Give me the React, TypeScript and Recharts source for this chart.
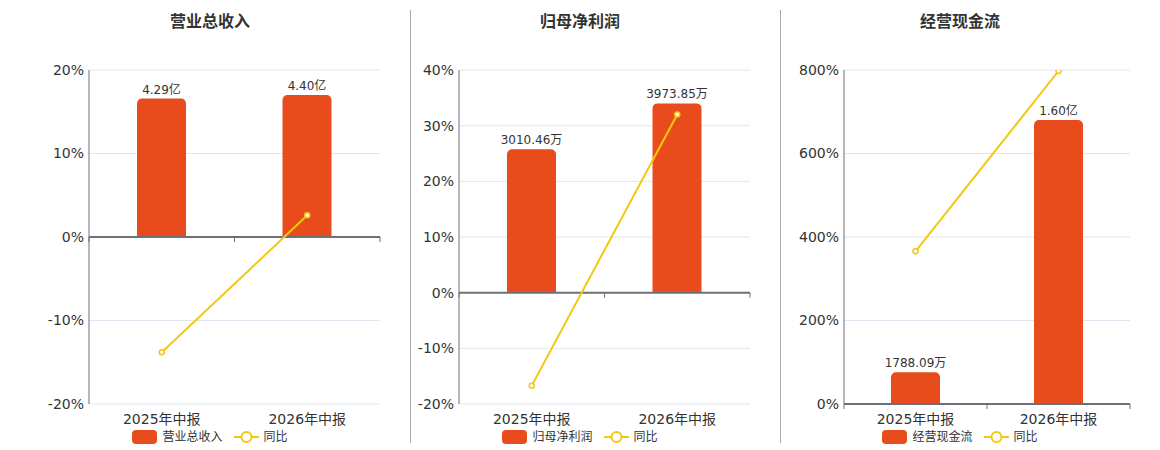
import React from "react";
import {
  ComposedChart, Bar, Line, XAxis, YAxis, CartesianGrid,
  ReferenceLine, LabelList,
} from "recharts";

const periods = ["2025年中报", "2026年中报"];

// 营业总收入 (亿)
const revenueValues = [4.29, 4.4];
const revenueLabels = ["4.29亿", "4.40亿"];
const revenueYoy = [-13.8, 2.6];
const revenueTicks = [-20, -10, 0, 10, 20];

// 归母净利润 (万)
const profitValues = [3010.46, 3973.85];
const profitLabels = ["3010.46万", "3973.85万"];
const profitYoy = [-16.7, 32.0];
const profitTicks = [-20, -10, 0, 10, 20, 30, 40];

// 经营现金流 (万)
const cashValues = [1788.09, 16000];
const cashLabels = ["1788.09万", "1.60亿"];
const cashYoy = [365.7, 797.6];
const cashTicks = [0, 200, 400, 600, 800];

const BAR_COLOR = "#e84c1d";
const LINE_COLOR = "#f2c811";
const AXIS_COLOR = "#6e7079";
const GRID_COLOR = "#e0e6f1";
const TEXT_COLOR = "#333";
const FONT = "'DejaVu Sans', 'Noto Sans CJK SC', sans-serif";

type PanelProps = {
  title: string;
  values: number[];
  labels: string[];
  yoy: number[];
  ticks: number[];
  left: number;
  width: number;
  axisWidth: number;
  center: number;
};

function ZeroLine(props: any) {
  const { x1, x2, y1 } = props;
  const mid = (x1 + x2) / 2;
  return (
    <g>
      <line x1={x1} x2={x2} y1={y1} y2={y1} stroke={AXIS_COLOR} strokeWidth={2} />
      {[x1, mid, x2].map((x, i) => (
        <line key={i} x1={x} x2={x} y1={y1} y2={y1 + 5} stroke={AXIS_COLOR} strokeWidth={1} />
      ))}
    </g>
  );
}

function Panel({ title, values, labels, yoy, ticks, left, width, axisWidth, center }: PanelProps) {
  const data = periods.map((p, i) => ({ period: p, value: values[i], label: labels[i], yoy: yoy[i] }));
  const lo = ticks[0];
  const hi = ticks[ticks.length - 1];
  const barMax = Math.max(...values) / 0.85;
  const barMin = (barMax * lo) / hi;

  return (
    <div style={{ position: "absolute", left, top: 0, width, height: 450 }}>
      <div style={{
        position: "absolute", left: 0, top: 12, width: center * 2, textAlign: "center",
        fontSize: 16, fontWeight: "bold", color: TEXT_COLOR, lineHeight: "20px",
      }}>{title}</div>
      <ComposedChart width={width} height={450} data={data}
        margin={{ top: 70, right: 20, bottom: 16, left: 0 }}>
        <CartesianGrid yAxisId="left" vertical={false} stroke={GRID_COLOR} />
        <XAxis dataKey="period" axisLine={false} tickLine={false} tickSize={0} tickMargin={10} height={30}
          tick={{ fontSize: 14, fill: TEXT_COLOR, fontFamily: FONT }} />
        <YAxis yAxisId="left" domain={[lo, hi]} ticks={ticks} width={axisWidth}
          tickLine={false} tickSize={0} tickMargin={5} allowDataOverflow
          axisLine={{ stroke: AXIS_COLOR }} tickFormatter={(v: number) => `${v}%`}
          tick={{ fontSize: 14, fill: TEXT_COLOR, fontFamily: FONT }} />
        <YAxis yAxisId="bar" orientation="right" hide width={0} domain={[barMin, barMax]} allowDataOverflow />
        <Bar yAxisId="bar" dataKey="value" fill={BAR_COLOR} barSize={49} radius={[5, 5, 0, 0]}
          isAnimationActive={false}>
          <LabelList dataKey="label" position="top" offset={5}
            style={{ fontSize: 12, fill: TEXT_COLOR, fontFamily: FONT }} />
        </Bar>
        <ReferenceLine yAxisId="left" y={0} shape={ZeroLine} />
        <Line yAxisId="left" dataKey="yoy" type="linear" stroke={LINE_COLOR} strokeWidth={2}
          dot={{ r: 2.5, fill: "#fff", stroke: LINE_COLOR, strokeWidth: 1.5 }}
          isAnimationActive={false} />
      </ComposedChart>
      <div style={{
        position: "absolute", left: 0, top: 429, width: center * 2, display: "flex",
        justifyContent: "center", alignItems: "center", fontSize: 12, color: TEXT_COLOR, lineHeight: "16px",
      }}>
        <svg width={25} height={14} style={{ marginRight: 5 }}>
          <rect x={0} y={0} width={25} height={14} rx={4} fill={BAR_COLOR} />
        </svg>
        <span style={{ marginRight: 11 }}>{title}</span>
        <svg width={25} height={14} style={{ marginRight: 5 }}>
          <line x1={0} x2={25} y1={7} y2={7} stroke={LINE_COLOR} strokeWidth={2} />
          <circle cx={12.5} cy={7} r={5} fill="#fff" stroke={LINE_COLOR} strokeWidth={2} />
        </svg>
        <span>同比</span>
      </div>
    </div>
  );
}

export default function App() {
  return (
    <div style={{ position: "absolute", left: 0, top: 0, width: 1160, height: 450, background: "#fff", fontFamily: FONT }}>
      <div style={{ position: "absolute", left: 410, top: 10, width: 1, height: 433, background: "#aaa" }} />
      <div style={{ position: "absolute", left: 780, top: 10, width: 1, height: 433, background: "#aaa" }} />
      <Panel title="营业总收入" values={revenueValues} labels={revenueLabels} yoy={revenueYoy}
        ticks={revenueTicks} left={0} width={400} axisWidth={89} center={210} />
      <Panel title="归母净利润" values={profitValues} labels={profitLabels} yoy={profitYoy}
        ticks={profitTicks} left={410} width={360} axisWidth={49} center={170} />
      <Panel title="经营现金流" values={cashValues} labels={cashLabels} yoy={cashYoy}
        ticks={cashTicks} left={780} width={370} axisWidth={64} center={180} />
    </div>
  );
}
